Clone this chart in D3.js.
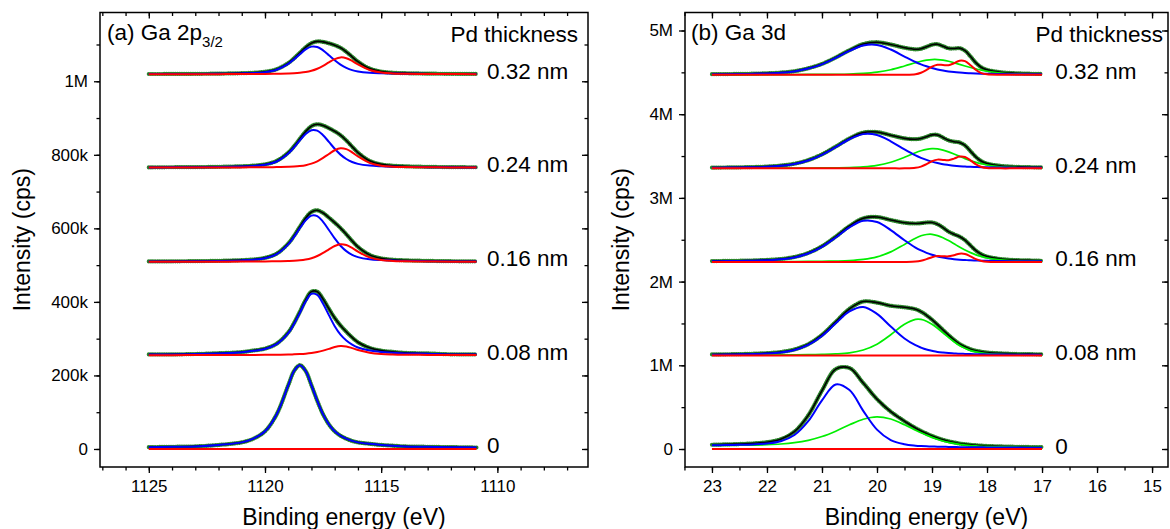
<!DOCTYPE html>
<html lang="en">
  <head>
    <meta charset="UTF-8" />
    <title>Ga 2p3/2 and Ga 3d spectra vs Pd thickness</title>
    <script src="https://d3js.org/d3.v7.min.js"></script>
    <style>
      body { margin: 0; background: #fff; }
      text { font-family: "Liberation Sans", Arial, Helvetica, sans-serif; fill: #000; }
      .tick text { font-size: 17px; font-family: "Liberation Sans", Arial, Helvetica, sans-serif; }
      .tick line { stroke: #000; stroke-width: 1.3px; }
      .frame { fill: none; stroke: #000; stroke-width: 1.5px; }
      .curve { fill: none; stroke-linejoin: round; }
    </style>
  </head>
  <body>
    <svg id="chart" width="1170" height="529"></svg>
    <script>
      // ---------- panel (a) Ga 2p3/2, values in k cps above each baseline ----------
      var energyA = [1125, 1124, 1123, 1122, 1121, 1120.5, 1120, 1119.5, 1119, 1118.75, 1118.5, 1118.25, 1118, 1117.75,
        1117.5, 1117.25, 1117, 1116.75, 1116.5, 1116.25, 1116, 1115.5, 1115, 1114.5, 1114, 1113, 1112, 1110.9];
      var thickness = ["0", "0.08 nm", "0.16 nm", "0.24 nm", "0.32 nm"];
      var offsetA = [0, 255, 509, 765, 1019];

      var blueA0 = [5, 6, 7, 11, 18, 28, 48, 94, 173, 212, 228, 212, 173, 131, 94, 67, 48, 36, 28, 22, 18, 14, 11, 9, 7, 6, 5, 4];
      var redA0 = [0, 0, 0, 0, 0, 0, 0, 0, 0, 0, 0, 0, 0, 0, 0, 0, 0, 0, 0, 0, 0, 0, 0, 0, 0, 0, 0, 0];
      var blueA1 = [2, 2, 3, 5, 8, 12, 17, 30, 60, 85, 115, 146, 167, 164, 140, 109, 79, 56, 40, 29, 21, 13, 9, 7, 5, 4, 2, 2];
      var redA1 = [0.2, 0.2, 0.3, 0.4, 0.6, 0.8, 1, 1.3, 1.9, 2.4, 3.1, 4.2, 6, 8.7, 12.5, 17.3, 22.2, 24.9, 23.7, 19.3, 14.3, 7, 3.5, 2.1, 1.4, 0.8, 0.5, 0.3];
      var blueA2 = [0.8, 1.1, 1.5, 2.3, 3.9, 5.7, 9.7, 20.7, 47.5, 67.9, 91.2, 112.8, 125.7, 124.2, 108.8, 86.5, 63.5, 43.8, 29.1, 19.1, 12.8, 6.9, 4.6, 3.3, 2.5, 1.7, 1.1, 0.9];
      var redA2 = [0.2, 0.2, 0.3, 0.4, 0.6, 0.8, 1.1, 1.4, 2.2, 2.8, 4, 6.2, 9.9, 15.8, 24, 33.8, 43, 47.9, 45.6, 37.7, 27.8, 12, 4.8, 2.4, 1.6, 0.9, 0.5, 0.4];
      var blueA3 = [0.6, 0.9, 1.2, 1.9, 3.2, 4.6, 7.8, 16.8, 38.5, 55.1, 74, 91.5, 102, 100.7, 88.3, 70.1, 51.5, 35.5, 23.6, 15.5, 10.4, 5.6, 3.7, 2.7, 2.1, 1.3, 0.9, 0.7];
      var redA3 = [0.2, 0.3, 0.3, 0.5, 0.7, 0.9, 1.2, 1.6, 2.4, 3.1, 4.5, 6.8, 10.9, 17.4, 26.5, 37.3, 47.4, 52.8, 50.4, 41.7, 30.7, 13.2, 5.2, 2.7, 1.7, 1, 0.6, 0.4];
      var blueA4 = [0.5, 0.7, 0.9, 1.4, 2.4, 3.4, 5.8, 12.4, 28.4, 40.7, 54.6, 67.5, 75.2, 74.3, 65.1, 51.8, 38, 26.2, 17.4, 11.4, 7.7, 4.1, 2.7, 2, 1.5, 1, 0.7, 0.5];
      var redA4 = [0.2, 0.2, 0.3, 0.4, 0.6, 0.8, 1, 1.4, 2.1, 2.7, 3.9, 5.9, 9.5, 15.1, 23, 32.4, 41.2, 45.9, 43.7, 36.2, 26.7, 11.5, 4.6, 2.3, 1.5, 0.8, 0.5, 0.4];

      // ---------- panel (b) Ga 3d ----------
      var energyB = [23, 22.75, 22.5, 22.25, 22, 21.75, 21.5, 21.25, 21, 20.75, 20.5, 20.25, 20, 19.75, 19.5, 19.3, 19.2,
        19.1, 19, 18.9, 18.8, 18.7, 18.6, 18.5, 18.4, 18.3, 18.2, 18.1, 18, 17.75, 17.5, 17.25, 17];
      var offsetB = [0, 1118, 2235, 3353, 4471];
      var backB0 = [35, 35, 35, 35, 35, 35, 35, 34, 32, 29, 26, 23, 20, 17, 15, 14, 13, 13, 13, 12, 12, 12, 12, 12, 12, 12, 12, 12, 12, 12, 12, 12, 12];
      var zeroB = [0, 0, 0, 0, 0, 0, 0, 0, 0, 0, 0, 0, 0, 0, 0, 0, 0, 0, 0, 0, 0, 0, 0, 0, 0, 0, 0, 0, 0, 0, 0, 0, 0];

      var blueB0 = [9, 12, 15, 20, 30, 57, 132, 298, 549, 742, 678, 433, 211, 89, 42, 26, 22, 19, 17, 15, 14, 13, 12, 10, 10, 9, 8, 8, 7, 6, 5, 4, 4];
      var greenB0 = [6.8, 8, 9.6, 12.1, 16.4, 24.8, 40.5, 69.7, 117, 184, 263, 333, 365, 341, 275, 211, 181, 153, 126, 104, 84, 68, 55, 44, 36, 29, 24.5, 20.3, 17.4, 12.6, 10, 8.3, 6.9];
      var blueB1 = [8.6, 10.3, 12.6, 16.1, 22, 34.8, 64, 125, 233, 383, 526, 579, 497, 346, 203, 122, 93, 70, 55, 42, 34, 28, 24, 20, 18, 16, 14, 13, 12, 10, 8, 7, 6];
      var greenB1 = [2.8, 3.2, 3.7, 4.4, 5.2, 6.2, 7.6, 9.4, 12.6, 18.2, 31, 65, 134, 247, 372, 430, 430, 409, 372, 325, 270, 215, 163, 118, 85, 58, 42, 31, 23, 14, 10, 8, 7];
      var blueB2 = [8.1, 9.7, 11.7, 14.7, 20.4, 30.9, 54, 101, 180, 292, 413, 491, 477, 381, 259, 172, 137, 109, 85, 66, 52, 41, 33, 27, 23, 19, 17, 15, 14, 11, 9, 8, 7];
      var greenB2 = [2.1, 2.3, 2.6, 3.1, 3.6, 4.3, 5.1, 6.3, 7.9, 10.6, 16, 30, 60, 120, 209, 283, 312, 328, 330, 315, 290, 255, 217, 178, 142, 111, 84, 64, 47, 24, 14, 10, 7];
      var redB2 = [0, 0, 0, 0, 0, 0, 0, 0, 0, 0, 0, 0, 0, 0, 0.1, 4.2, 14.1, 33.5, 56.8, 69.9, 68, 66.7, 80.4, 98.1, 94.8, 66.4, 33.2, 11.7, 2.9, 0, 0, 0, 0];
      var blueB3 = [7.3, 8.7, 10.7, 13.7, 18.8, 29.8, 52, 94, 162, 253, 348, 409, 398, 323, 226, 155, 126, 101, 80, 63, 49, 40, 32, 26, 22, 18, 16, 14, 13, 10, 8, 7, 6];
      var greenB3 = [1.4, 1.6, 1.8, 2.1, 2.5, 2.9, 3.5, 4.3, 5.3, 6.9, 10, 18, 36, 73, 132, 187, 210, 227, 235, 232, 218, 197, 171, 143, 116, 92, 71, 54, 40, 19, 11, 7, 5.5];
      var redB3 = [0, 0, 0, 0, 0, 0, 0, 0, 0, 0, 0, 0, 0, 0, 0.2, 6.3, 21, 50, 84.8, 104.2, 100.9, 97.4, 115.8, 140.4, 135.4, 95, 47.4, 16.8, 4.2, 0, 0, 0, 0];
      var blueB4 = [6.1, 7.2, 8.9, 11.2, 15.3, 23.2, 40, 74, 125, 201, 285, 350, 357, 302, 218, 153, 125, 101, 80, 63, 50, 40, 32, 26, 21, 18, 15, 13, 12, 9, 7.5, 6.3, 5.4];
      var greenB4 = [1.3, 1.4, 1.6, 1.9, 2.2, 2.6, 3.1, 3.7, 4.7, 6.1, 9.3, 17, 32, 60, 105, 144, 162, 175, 182, 182, 175, 162, 144, 124, 105, 87, 70, 54, 42, 21, 11, 7, 5];
      var redB4 = [0, 0, 0, 0, 0, 0, 0, 0, 0, 0, 0, 0, 0, 0, 0.2, 7.2, 24.2, 57.5, 97.6, 120, 116.8, 114.4, 137.9, 168.1, 162.4, 113.9, 56.9, 20.1, 5, 0, 0, 0, 0];

      // ticks
      var xTicksA = [1125, 1120, 1115, 1110];
      var xMinorA = d3.range(1127, 1106, -1);
      var yTicksA = [0, 200e3, 400e3, 600e3, 800e3, 1e6];
      var yLabelsA = ["0", "200k", "400k", "600k", "800k", "1M"];
      var yMinorA = d3.range(0, 1.15e6, 100e3);
      var xTicksB = [23, 22, 21, 20, 19, 18, 17, 16, 15];
      var xMinorB = d3.range(23.5, 14.7, -0.5);
      var yTicksB = [0, 1e6, 2e6, 3e6, 4e6, 5e6];
      var yLabelsB = ["0", "1M", "2M", "3M", "4M", "5M"];
      var yMinorB = d3.range(0, 5.2e6, 0.5e6);

      var svg = d3.select("#chart");
      var plotTop = 12.5, plotBottom = 467;

      var panels = [
        {
          left: 100, right: 588,
          x: d3.scaleLinear().domain([1127.1, 1106.1]).range([100, 588]),
          y: d3.scaleLinear().domain([-49e3, 1187e3]).range([plotBottom, plotTop]),
          energy: energyA, offset: offsetA,
          back: [null, null, null, null, null],
          blue: [blueA0, blueA1, blueA2, blueA3, blueA4],
          green: null,
          red: [redA0, redA1, redA2, redA3, redA4],
          xTicks: xTicksA, xMinor: xMinorA, yTicks: yTicksA, yLabels: yLabelsA, yMinor: yMinorA,
          labelE: 1110.45, titleX: 107, titleCx: 22, pdRight: 578,
        },
        {
          left: 685, right: 1168,
          x: d3.scaleLinear().domain([23.49, 14.71]).range([685, 1168]),
          y: d3.scaleLinear().domain([-0.215e6, 5.215e6]).range([plotBottom, plotTop]),
          energy: energyB, offset: offsetB,
          back: [backB0, null, null, null, null],
          blue: [blueB0, blueB1, blueB2, blueB3, blueB4],
          green: [greenB0, greenB1, greenB2, greenB3, greenB4],
          red: [zeroB, zeroB, redB2, redB3, redB4],
          xTicks: xTicksB, xMinor: xMinorB, yTicks: yTicksB, yLabels: yLabelsB, yMinor: yMinorB,
          labelE: 16.76, titleX: 691, titleCx: 621, pdRight: 1163,
        },
      ];

      panels.forEach(function (p, pi) {
        var g = svg.append("g");
        var x = p.x, y = p.y;

        function line(vals) {
          return d3.line()
            .x(function (d, i) { return x(p.energy[i]); })
            .y(function (d) { return y(d * 1000); })
            .curve(d3.curveCatmullRom.alpha(0.5))(vals);
        }

        for (var s = 0; s < 5; s++) {
          var off = p.offset[s];
          var n = p.energy.length;
          var bg = p.back[s] || d3.range(n).map(function () { return 0; });
          var env = d3.range(n).map(function (i) {
            return off + bg[i] + p.blue[s][i] + p.red[s][i] + (p.green ? p.green[s][i] : 0);
          });
          var blue = p.blue[s].map(function (v, i) { return off + bg[i] + v; });
          var red = p.red[s].map(function (v) { return off + v; });

          // measured points
          g.append("path").attr("class", "curve").attr("d", line(env))
            .attr("stroke", "#2c852c").attr("stroke-width", 4.2)
            .attr("stroke-linecap", "round").attr("stroke-dasharray", "0.01 2.2");
          // fit envelope
          g.append("path").attr("class", "curve").attr("d", line(env))
            .attr("stroke", "#000").attr("stroke-width", 1.6);
          if (p.green) {
            var green = p.green[s].map(function (v, i) { return off + bg[i] + v; });
            g.append("path").attr("class", "curve").attr("d", line(green))
              .attr("stroke", "#00ee00").attr("stroke-width", 1.7);
          }
          g.append("path").attr("class", "curve").attr("d", line(blue))
            .attr("stroke", "#0000ff").attr("stroke-width", 2);
          g.append("path").attr("class", "curve").attr("d", line(red))
            .attr("stroke", "#ff0000").attr("stroke-width", 2);

          g.append("text").attr("x", x(p.labelE)).attr("y", y(off * 1000) - 3)
            .attr("dominant-baseline", "central").style("font-size", "22.5px").text(thickness[s]);
        }

        function clean(sel) { sel.select(".domain").remove(); }

        // bottom axis
        g.append("g").attr("transform", "translate(0," + plotBottom + ")")
          .call(d3.axisBottom(x).tickValues(p.xTicks).tickSize(6).tickPadding(7).tickFormat(d3.format("d"))).call(clean);
        g.append("g").attr("transform", "translate(0," + plotBottom + ")")
          .call(d3.axisBottom(x).tickValues(p.xMinor).tickSize(3.5).tickFormat("")).call(clean);
        // top mirror ticks (inward)
        g.append("g").attr("transform", "translate(0," + plotTop + ")")
          .call(d3.axisBottom(x).tickValues(p.xTicks).tickSize(6).tickFormat("")).call(clean);
        g.append("g").attr("transform", "translate(0," + plotTop + ")")
          .call(d3.axisBottom(x).tickValues(p.xMinor).tickSize(3.5).tickFormat("")).call(clean);
        // left axis
        g.append("g").attr("transform", "translate(" + p.left + ",0)")
          .call(d3.axisLeft(y).tickValues(p.yTicks).tickSize(6).tickPadding(6)
            .tickFormat(function (d, i) { return p.yLabels[i]; })).call(clean);
        g.append("g").attr("transform", "translate(" + p.left + ",0)")
          .call(d3.axisLeft(y).tickValues(p.yMinor).tickSize(3.5).tickFormat("")).call(clean);
        // right mirror ticks (inward)
        g.append("g").attr("transform", "translate(" + p.right + ",0)")
          .call(d3.axisLeft(y).tickValues(p.yTicks).tickSize(6).tickFormat("")).call(clean);
        g.append("g").attr("transform", "translate(" + p.right + ",0)")
          .call(d3.axisLeft(y).tickValues(p.yMinor).tickSize(3.5).tickFormat("")).call(clean);

        g.append("rect").attr("class", "frame")
          .attr("x", p.left).attr("y", plotTop).attr("width", p.right - p.left).attr("height", plotBottom - plotTop);

        // titles
        var t = g.append("text").attr("x", p.titleX).attr("y", 40).style("font-size", "22.5px");
        if (pi === 0) {
          t.append("tspan").text("(a) Ga 2p");
          t.append("tspan").attr("dy", 6.5).style("font-size", "15px").text("3/2");
        } else {
          t.text("(b) Ga 3d");
        }
        g.append("text").attr("x", p.pdRight).attr("y", 42).attr("text-anchor", "end")
          .style("font-size", "22.5px").text("Pd thickness");

        g.append("text").attr("x", (p.left + p.right) / 2).attr("y", 525).attr("text-anchor", "middle")
          .style("font-size", "23px").text("Binding energy (eV)");
        g.append("text").attr("transform", "translate(" + p.titleCx + "," + ((plotTop + plotBottom) / 2) + ") rotate(-90)")
          .attr("text-anchor", "middle").attr("dominant-baseline", "central")
          .style("font-size", "23px").text("Intensity (cps)");
      });
    </script>
  </body>
</html>
